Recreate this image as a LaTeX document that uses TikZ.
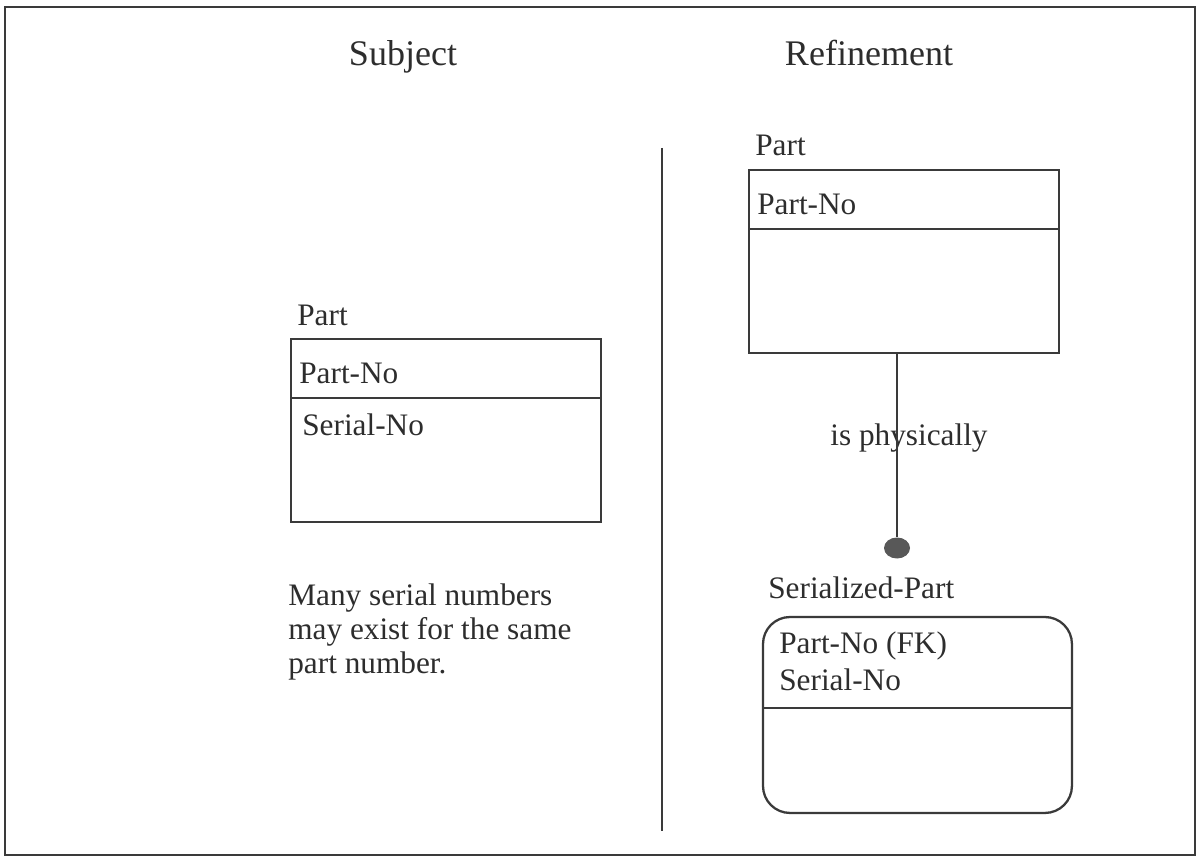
\documentclass[tikz,border=0pt]{standalone}
\usepackage{fontspec}
\setmainfont{Liberation Serif}
\usetikzlibrary{shapes.geometric,positioning}
\definecolor{ln}{RGB}{58,58,58}
\definecolor{tx}{RGB}{45,45,45}
\definecolor{dt}{RGB}{88,88,88}
\begin{document}
\begin{tikzpicture}[x=0.02cm,y=-0.02cm,
    box/.style={rectangle,draw=ln,line width=1.3pt,anchor=north west,minimum width=6.2cm,inner sep=0pt,outer sep=0pt},
    txt/.style={anchor=base west,inner sep=0pt,text=tx,font=\fontsize{17.8}{20.5}\selectfont},
    ttl/.style={anchor=base,inner sep=0pt,text=tx,font=\fontsize{20.5}{24}\selectfont},
    ln1/.style={draw=ln,line width=1.1pt},
]
\useasboundingbox (0,0) rectangle (1197,858);
\node[box,line width=1.1pt,minimum width=23.8cm,minimum height=16.96cm] (frm) at (5,7) {};

\node[ttl] (hs) at (403,66) {Subject};
\node[ttl] (hr) at (869,66) {Refinement};

\coordinate (d1) at (662,148); \coordinate (d2) at (662,831);
\draw[ln1] (d1) -- (d2);

\node[txt] (lpn) at (297,325) {Part};
\node[box,minimum height=1.18cm] (lk) at (291,339) {};
\node[box,minimum height=2.48cm] (lb) at (lk.south west) {};
\node[txt] (lka) at (299,383) {Part-No};
\node[txt] (lba) at (302,435) {Serial-No};

\node[txt] (n1) at (288,605) {Many serial numbers};
\node[txt] (n2) at (288,639) {may exist for the same};
\node[txt] (n3) at (288,673) {part number.};

\node[txt] (rpn) at (755,156) {Part};
\node[box,minimum height=1.18cm] (rk) at (749,170) {};
\node[box,minimum height=2.48cm] (rb) at (rk.south west) {};
\node[txt] (rka) at (757,215) {Part-No};

\node[txt] (rel) at (830,445) {is physically};
\node[ellipse,fill=dt,minimum width=0.52cm,minimum height=0.42cm,inner sep=0pt] (dot) at (897,548) {};
\draw[ln1] (rb.south -| dot.north) -- (dot.north);

\node[txt] (spn) at (768,598) {Serialized-Part};
\node[box,rounded corners=0.54cm,minimum width=6.18cm,minimum height=3.92cm] (sb) at (763,617) {};
\draw[ln,line width=1.3pt] ([yshift=-1.82cm]sb.north west) -- ([yshift=-1.82cm]sb.north east);
\node[txt] (sk1) at (779,653) {Part-No (FK)};
\node[txt] (sk2) at (779,690) {Serial-No};
\end{tikzpicture}
\end{document}
